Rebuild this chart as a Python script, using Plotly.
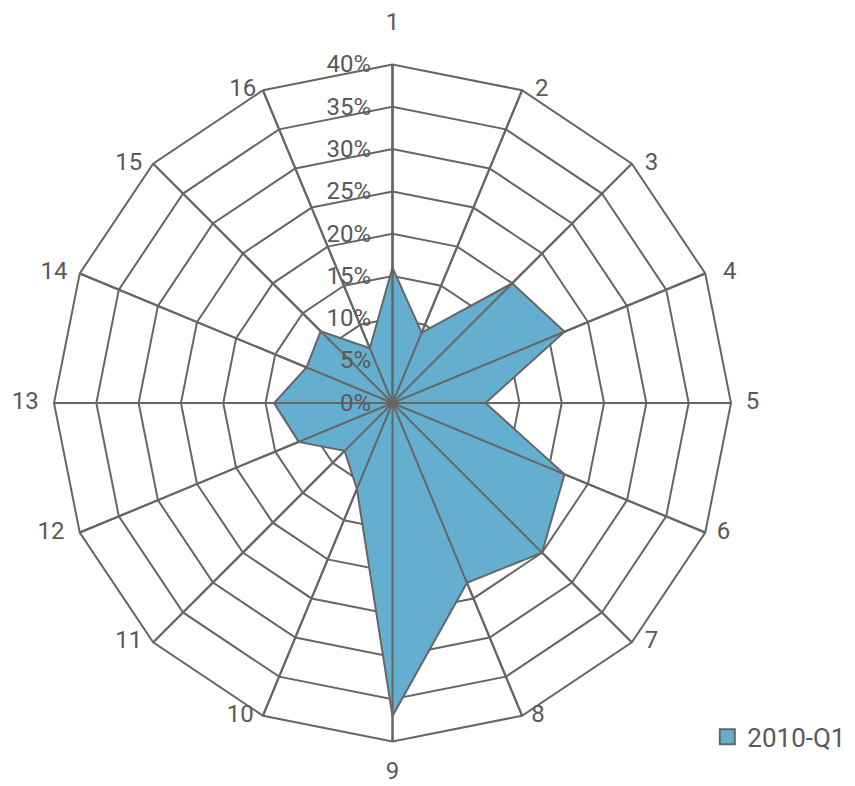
import plotly.graph_objects as go

categories = [str(i) for i in range(1, 17)]
values_2010_q1 = [16, 9, 20, 22, 11, 22, 25, 23, 37, 11, 8, 12, 14, 11, 12, 7]
series_name = "2010-Q1"
radial_ticks = [0, 5, 10, 15, 20, 25, 30, 35, 40]
radial_tick_labels = [f"{v}%" for v in radial_ticks]

# styling
grid = "#666666"
text_col = "#595959"
fill_col = "#64AFD0"
font_family = "Roboto, Open Sans, sans-serif"
r_max = radial_ticks[-1]

# category label placement (styles): text position and spacer size per label
label_positions = (["top center"] + ["middle right"] * 7 + ["bottom center"]
                   + ["middle left"] * 7)
label_spacers = [44, 19, 19, 27, 22, 17, 19, 13, 30, 13, 16, 23, 23, 18, 16, 9]

fig = go.Figure()
fig.add_trace(go.Scatterpolar(
    r=values_2010_q1 + [values_2010_q1[0]],
    theta=categories + [categories[0]],
    name=series_name,
    mode="lines",
    fill="toself",
    fillcolor=fill_col,
    line=dict(color=grid, width=2),
    showlegend=False,
    hoverinfo="skip",
))

# spokes drawn over the filled area (as in the reference)
spoke_r, spoke_t = [], []
for c in categories:
    spoke_r += [0, r_max, None]
    spoke_t += [c, c, None]
fig.add_trace(go.Scatterpolar(
    r=spoke_r, theta=spoke_t, mode="lines",
    line=dict(color=grid, width=2),
    showlegend=False, hoverinfo="skip", connectgaps=False,
))

# category labels
fig.add_trace(go.Scatterpolar(
    r=[r_max] * len(categories), theta=categories,
    mode="markers+text",
    text=categories,
    textposition=label_positions,
    textfont=dict(size=24, color=text_col, family=font_family),
    marker=dict(size=label_spacers, opacity=0, color="white"),
    showlegend=False, hoverinfo="skip", cliponaxis=False,
))

# legend-only entry (square swatch)
fig.add_trace(go.Scatterpolar(
    r=[None], theta=[None],
    name=series_name,
    mode="markers",
    marker=dict(symbol="square", size=15, color=fill_col,
                line=dict(color=grid, width=2)),
    showlegend=True,
))

fig.update_layout(
    width=855, height=786,
    margin=dict(l=46, r=129, t=55, b=51),
    paper_bgcolor="white",
    font=dict(family=font_family, color=text_col, size=24),
    polar=dict(
        bgcolor="white",
        gridshape="linear",
        domain=dict(x=[0, 1], y=[0, 1]),
        angularaxis=dict(
            direction="clockwise",
            rotation=90,
            categoryorder="array",
            categoryarray=categories,
            showline=True,
            linecolor=grid,
            linewidth=2,
            gridcolor=grid,
            gridwidth=2,
            ticks="",
            showticklabels=False,
        ),
        radialaxis=dict(
            range=[0, r_max],
            tickvals=radial_ticks,
            ticktext=radial_tick_labels,
            angle=90,
            tickangle=90,
            side="counterclockwise",
            showline=True,
            linecolor=grid,
            linewidth=2,
            gridcolor=grid,
            gridwidth=2,
            ticks="outside",
            ticklen=12,
            tickcolor="rgba(0,0,0,0)",
            tickfont=dict(size=24, color=text_col),
            layer="above traces",
        ),
    ),
    legend=dict(
        x=0.965, y=0.009, xanchor="left", yanchor="middle",
        font=dict(size=26, color=text_col),
        bgcolor="rgba(0,0,0,0)",
        itemwidth=30,
    ),
)

fig.write_html("out.html")
